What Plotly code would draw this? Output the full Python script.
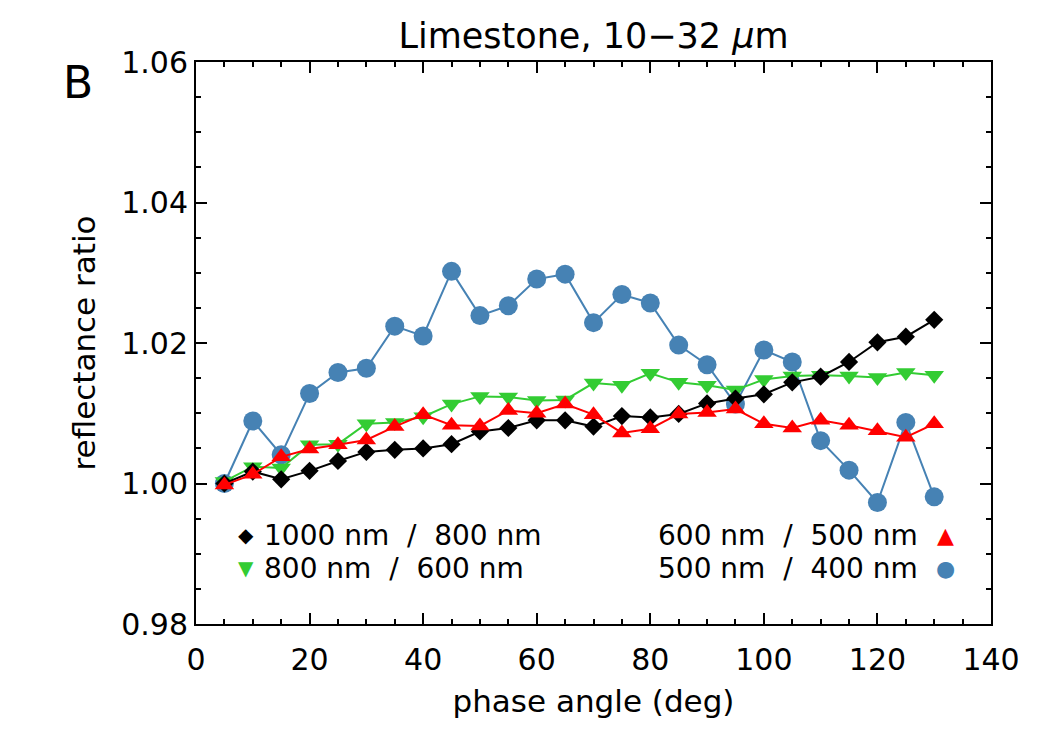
import plotly.graph_objects as go

phase = [5, 10, 15, 20, 25, 30, 35, 40, 45, 50, 55, 60, 65, 70, 75, 80, 85, 90, 95, 100, 105, 110, 115, 120, 125, 130]

r1000_800 = [1.0000, 1.0017, 1.0006, 1.0018, 1.0032, 1.0045, 1.0048, 1.0050, 1.0056, 1.0074, 1.0079, 1.0090, 1.0090, 1.0081,
             1.0096, 1.0094, 1.0099, 1.0114, 1.0121, 1.0127, 1.0144, 1.0152, 1.0173, 1.0201, 1.0209, 1.0233]
r800_600 = [1.0003, 1.0024, 1.0022, 1.0055, 1.0056, 1.0085, 1.0087, 1.0095, 1.0113, 1.0124, 1.0123, 1.0118, 1.0119, 1.0143,
            1.0140, 1.0157, 1.0144, 1.0140, 1.0133, 1.0148, 1.0153, 1.0154, 1.0153, 1.0151, 1.0158, 1.0154]
r600_500 = [0.9998, 1.0013, 1.0038, 1.0049, 1.0055, 1.0062, 1.0081, 1.0098, 1.0083, 1.0082, 1.0104, 1.0100, 1.0113, 1.0098,
            1.0072, 1.0078, 1.0099, 1.0101, 1.0106, 1.0085, 1.0079, 1.0090, 1.0083, 1.0075, 1.0066, 1.0085]
r500_400 = [1.0000, 1.0089, 1.0041, 1.0128, 1.0158, 1.0164, 1.0224, 1.0210, 1.0302, 1.0239, 1.0253, 1.0291, 1.0298, 1.0229,
            1.0269, 1.0257, 1.0197, 1.0169, 1.0113, 1.0190, 1.0173, 1.0061, 1.0019, 0.9973, 1.0087, 0.9981]

labels = ["1000 nm / 800 nm", "800 nm / 600 nm", "600 nm / 500 nm", "500 nm / 400 nm"]
colors = ["black", "#33CC33", "#FF0000", "#4682B4"]

FONT = "DejaVu Sans"
NB = "\u00a0"

fig = go.Figure()
fig.add_trace(go.Scatter(x=phase, y=r500_400, mode="lines+markers", name=labels[3],
                         line=dict(color=colors[3], width=2),
                         marker=dict(symbol="circle", size=19, color=colors[3])))
fig.add_trace(go.Scatter(x=phase, y=r800_600, mode="lines+markers", name=labels[1],
                         line=dict(color=colors[1], width=2),
                         marker=dict(symbol="triangle-down", size=17, color=colors[1])))
fig.add_trace(go.Scatter(x=phase, y=r1000_800, mode="lines+markers", name=labels[0],
                         line=dict(color=colors[0], width=2),
                         marker=dict(symbol="diamond", size=14, color=colors[0])))
fig.add_trace(go.Scatter(x=phase, y=r600_500, mode="lines+markers", name=labels[2],
                         line=dict(color=colors[2], width=2),
                         marker=dict(symbol="triangle-up", size=17, color=colors[2])))

axis_common = dict(showgrid=False, zeroline=False, showline=True, linecolor="black", linewidth=2,
                   mirror="ticks", ticks="inside", ticklen=11, tickwidth=2, tickcolor="black",
                   tickfont=dict(family=FONT, size=30, color="black"))

fig.update_xaxes(range=[0, 140], dtick=20, tick0=0, ticklabelstandoff=8,
                 minor=dict(dtick=5, tick0=0, ticks="inside", ticklen=5, tickwidth=2, tickcolor="black"),
                 title=dict(text="phase angle (deg)", font=dict(family=FONT, size=31, color="black"), standoff=14),
                 **axis_common)
fig.update_yaxes(range=[0.98, 1.06], dtick=0.02, tick0=0.98, tickformat=".2f",
                 minor=dict(dtick=0.005, tick0=0.98, ticks="inside", ticklen=5, tickwidth=2, tickcolor="black"),
                 title=dict(text="reflectance ratio", font=dict(family=FONT, size=31, color="black"), standoff=16),
                 **axis_common)

fig.update_layout(
    width=1050, height=750,
    margin=dict(l=196, r=59, t=62, b=126),
    plot_bgcolor="white", paper_bgcolor="white",
    showlegend=False,
    title=dict(text="Limestone, 10−32 <i>μ</i>m", x=0.5, xref="paper", y=1 - 36 / 750, yref="container",
               xanchor="center", yanchor="middle", font=dict(family=FONT, size=35, color="black")),
)

def px2paper(px, py):
    return (px - 196) / 795, (624 - py) / 562

def spaced(s):
    return s.replace(" / ", NB * 2 + "/" + NB * 2).replace(" ", NB)

annots = []
bx, by = px2paper(78, 82)
annots.append(dict(x=bx, y=by, xref="paper", yref="paper", text="B", showarrow=False,
                   font=dict(family=FONT, size=44, color="black"), xanchor="center", yanchor="middle"))

rows = [535, 568]
sym_left = ["◆", "▼"]
sym_right = ["▲", "●"]
left_idx = [0, 1]
right_idx = [2, 3]
for i, py in enumerate(rows):
    sx, sy = px2paper(246, py)
    annots.append(dict(x=sx, y=sy, xref="paper", yref="paper", text=sym_left[i], showarrow=False,
                       font=dict(family=FONT, size=20, color=colors[left_idx[i]]), xanchor="center", yanchor="middle"))
    tx, ty = px2paper(262, py)
    annots.append(dict(x=tx, y=ty, xref="paper", yref="paper", text=spaced(labels[left_idx[i]]), showarrow=False,
                       font=dict(family=FONT, size=28, color="black"), xanchor="left", yanchor="middle"))
    tx2, _ = px2paper(920, py)
    annots.append(dict(x=tx2, y=ty, xref="paper", yref="paper", text=spaced(labels[right_idx[i]]), showarrow=False,
                       font=dict(family=FONT, size=28, color="black"), xanchor="right", yanchor="middle"))
    sx2, _ = px2paper(945, py)
    annots.append(dict(x=sx2, y=sy, xref="paper", yref="paper", text=sym_right[i], showarrow=False,
                       font=dict(family=FONT, size=22, color=colors[right_idx[i]]), xanchor="center", yanchor="middle"))

fig.update_layout(annotations=annots)

fig.write_html("out.html")
